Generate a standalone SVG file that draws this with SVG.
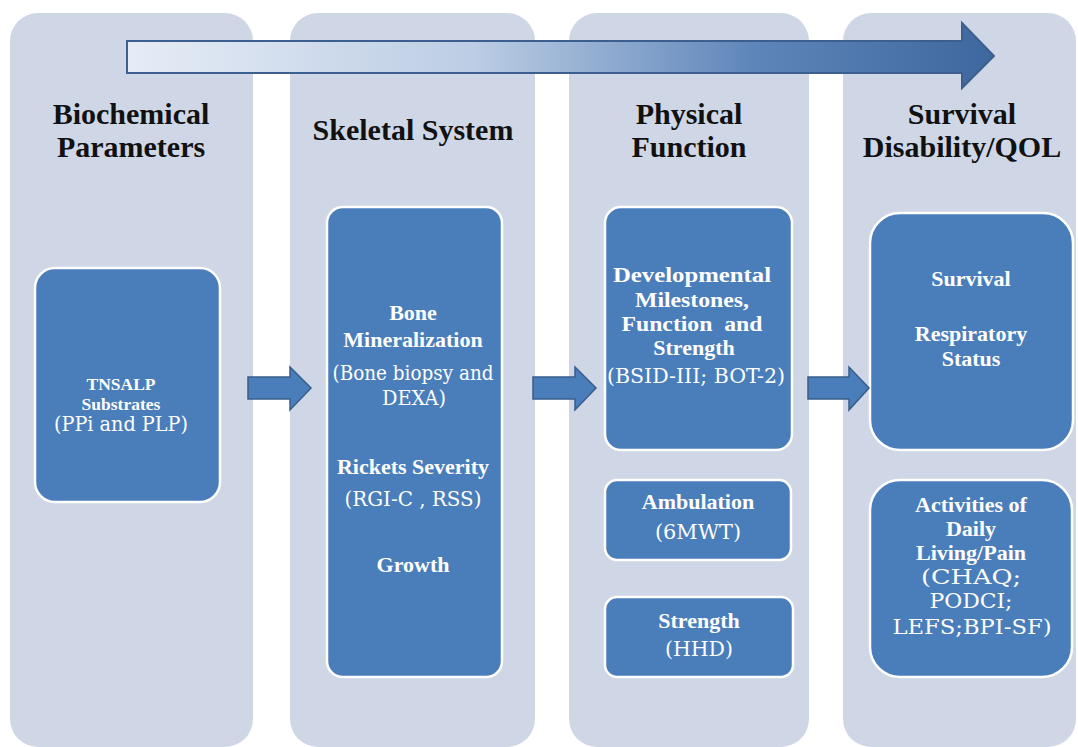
<svg xmlns="http://www.w3.org/2000/svg" width="1078" height="747" viewBox="0 0 1078 747">
<defs>
<linearGradient id="topgrad" x1="127" y1="0" x2="995" y2="0" gradientUnits="userSpaceOnUse">
<stop offset="0" stop-color="#e6ecf6"/>
<stop offset="0.4" stop-color="#bccde4"/>
<stop offset="0.72" stop-color="#5f86ba"/>
<stop offset="1" stop-color="#3d679e"/>
</linearGradient>
<style>
.col{fill:#cfd7e6;}
.box{fill:#4a7ebb;stroke:#ffffff;stroke-width:2.5;}
.hd{font-family:"Liberation Serif","DejaVu Serif",serif;font-weight:bold;font-size:30px;fill:#111;text-anchor:middle;}
.b{font-family:"Liberation Serif","DejaVu Serif",serif;font-weight:bold;font-size:22px;fill:#ffffff;text-anchor:middle;}
.bs{font-family:"Liberation Serif","DejaVu Serif",serif;font-weight:bold;font-size:17.5px;fill:#ffffff;text-anchor:middle;}
.r{font-family:"DejaVu Serif","Liberation Serif",serif;font-weight:normal;font-size:19.5px;fill:#ffffff;text-anchor:middle;}
.arr{fill:#4a7ebb;stroke:#385d8a;stroke-width:1.5;}
</style>
</defs>
<rect width="1078" height="747" fill="#ffffff"/>
<g id="col1"><rect class="col" x="10" y="13" width="243" height="734" rx="28"/><text class="hd" x="131" y="124">Biochemical</text><text class="hd" x="131" y="157">Parameters</text></g>
<g id="col2"><rect class="col" x="290" y="13" width="245" height="734" rx="28"/><text class="hd" x="413" y="140">Skeletal System</text></g>
<g id="col3"><rect class="col" x="569" y="13" width="240" height="734" rx="28"/><text class="hd" x="689" y="124">Physical</text><text class="hd" x="689" y="157">Function</text></g>
<g id="col4"><rect class="col" x="843" y="13" width="233" height="734" rx="28"/><text class="hd" x="962" y="124">Survival</text><text class="hd" x="962" y="157">Disability/QOL</text></g>
<g id="progress"><path d="M127,41 H962 V23 L994,56 L962,88 V73 H127 Z" fill="url(#topgrad)" stroke="#3d5f8f" stroke-width="2"/></g>
<g id="tnsalp"><rect class="box" x="35" y="268" width="185" height="234" rx="20"/>
<text class="bs" x="121" y="390">TNSALP</text><text class="bs" x="121" y="410">Substrates</text>
<text class="r" x="121" y="431" textLength="134" lengthAdjust="spacingAndGlyphs">(PPi and PLP)</text></g>
<g id="skeletal"><rect class="box" x="327" y="207" width="175" height="470" rx="16"/>
<text class="b" x="413" y="320">Bone</text><text class="b" x="413" y="347">Mineralization</text>
<text class="r" x="413" y="380" textLength="161" lengthAdjust="spacingAndGlyphs">(Bone biopsy and</text>
<text class="r" x="414" y="405" textLength="64" lengthAdjust="spacingAndGlyphs">DEXA)</text>
<text class="b" x="413" y="474">Rickets Severity</text>
<text class="r" x="413" y="506" textLength="137" lengthAdjust="spacingAndGlyphs">(RGI-C , RSS)</text>
<text class="b" x="413" y="572">Growth</text></g>
<g id="developmental"><rect class="box" x="605" y="207" width="187" height="243" rx="16"/>
<text class="b" x="692" y="282" textLength="158" lengthAdjust="spacingAndGlyphs">Developmental</text>
<text class="b" x="692" y="307" textLength="114" lengthAdjust="spacingAndGlyphs">Milestones,</text>
<text class="b" x="692" y="331" textLength="141" lengthAdjust="spacingAndGlyphs" xml:space="preserve">Function  and</text>
<text class="b" x="694" y="355">Strength</text>
<text class="r" x="696" y="383" textLength="178" lengthAdjust="spacingAndGlyphs">(BSID-III; BOT-2)</text></g>
<g id="ambulation"><rect class="box" x="605" y="480" width="186" height="80" rx="12"/>
<text class="b" x="698" y="509">Ambulation</text>
<text class="r" x="698" y="539" textLength="86" lengthAdjust="spacingAndGlyphs">(6MWT)</text></g>
<g id="strength"><rect class="box" x="605" y="597" width="188" height="80" rx="12"/>
<text class="b" x="699" y="628">Strength</text>
<text class="r" x="699" y="656" textLength="68" lengthAdjust="spacingAndGlyphs">(HHD)</text></g>
<g id="survival"><rect class="box" x="870" y="213" width="203" height="237" rx="30"/>
<text class="b" x="971" y="286">Survival</text><text class="b" x="971" y="341">Respiratory</text><text class="b" x="971" y="366">Status</text></g>
<g id="adl"><rect class="box" x="870" y="480" width="202" height="197" rx="30"/>
<text class="b" x="971" y="512">Activities of</text><text class="b" x="971" y="536">Daily</text><text class="b" x="971" y="560">Living/Pain</text>
<text class="r" x="971" y="584" textLength="100" lengthAdjust="spacingAndGlyphs">(CHAQ;</text>
<text class="r" x="971" y="608" textLength="83" lengthAdjust="spacingAndGlyphs">PODCI;</text>
<text class="r" x="972" y="634" textLength="159" lengthAdjust="spacingAndGlyphs">LEFS;BPI-SF)</text></g>
<g id="connectors">
<path class="arr" d="M248,377 H290 V367 L311,388 L290,410 V399 H248 Z"/>
<path class="arr" d="M533,377 H575 V367 L596,388 L575,410 V399 H533 Z"/>
<path class="arr" d="M808,377 H849 V367 L869,388 L849,410 V399 H808 Z"/>
</g>
</svg>
